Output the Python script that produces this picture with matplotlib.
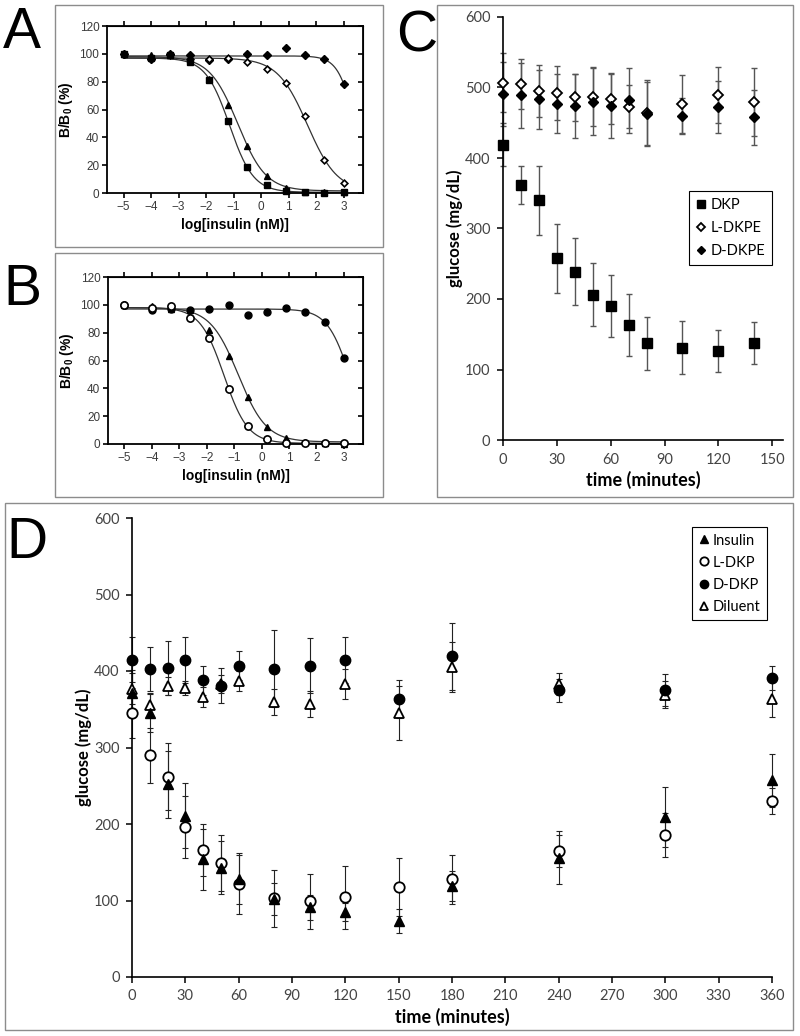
import numpy as np
import matplotlib
matplotlib.use("Agg")
import matplotlib.pyplot as plt
from matplotlib.patches import Rectangle
from matplotlib.lines import Line2D

W, H = 800, 1036
ARIAL = "Liberation Sans"
EXCEL = "Lato"

plt.rcParams["mathtext.fontset"] = "custom"
plt.rcParams["mathtext.bf"] = "Liberation Sans:bold"
plt.rcParams["mathtext.rm"] = "Liberation Sans"

# ---------------- panels A / B : competition binding ----------------
log_conc = [-5, -4, -3.3, -2.6, -1.9, -1.2, -0.5, 0.2, 0.9, 1.6, 2.3, 3.0]

a_square = [100, 97, 99, 94, 81, 52, 18.5, 5.5, 1.5, 0.5, 0.3, 0.5]
a_triangle = [100, 99, 99, 96, 82, 63, 34, 12, 3.5, 1, 0.5, 0.5]
a_open_diamond = [100, 96, 99, 96, 96, 97, 94, 89, 79, 55.5, 24, 7]
a_filled_diamond = [100, 96, 100, 99, 95.5, 96.5, 100, 99, 104, 99, 96, 78.5]

b_open_circle = [100, 98, 99, 90.5, 76, 39.5, 13, 3.5, 1, 0.5, 0.5, 0.5]
b_triangle = [100, 99, 97, 96, 82, 63, 34, 12, 4, 1.5, 0.5, 0]
b_filled_circle = [100, 96.5, 97, 96, 97, 100, 93, 95, 97.5, 95, 87.5, 61.5]

# fitted sigmoid parameters (top, bottom, logIC50, hill)
a_square_fit = (97, 0.5, -1.15, 1.0)
a_triangle_fit = (98, 1.5, -0.85, 0.85)
a_open_diamond_fit = (97, 1.0, 1.68, 0.8)
a_filled_diamond_fit = (98.5, 0, 3.42, 1.4)
b_open_circle_fit = (98, 0.5, -1.37, 1.0)
b_triangle_fit = (98, 1.5, -0.85, 0.85)
b_filled_circle_fit = (97, 0, 3.23, 1.04)

# ---------------- panel C ----------------
c_time = [0, 10, 20, 30, 40, 50, 60, 70, 80, 100, 120, 140]
dkp = [419, 362, 340, 258, 239, 206, 190, 163, 137, 131, 126, 138]
dkp_err = [30, 27, 49, 49, 47, 45, 44, 44, 38, 38, 30, 30]
l_dkpe = [507, 505, 495, 492, 486, 487, 484, 473, 464, 476, 489, 479]
l_dkpe_err = [42, 35, 37, 38, 33, 42, 36, 31, 47, 42, 40, 48]
d_dkpe = [491, 489, 483, 477, 474, 480, 474, 482, 463, 460, 472, 458]
d_dkpe_err = [45, 46, 42, 42, 45, 48, 45, 46, 45, 25, 37, 39]

# ---------------- panel D ----------------
d_time = [0, 10, 20, 30, 40, 50, 60, 80, 100, 120, 150, 180, 240, 300, 360]
insulin = [371, 345, 252, 211, 154, 143, 128, 102, 91, 85, 73, 119, 156, 209, 257]
insulin_err = [30, 25, 44, 43, 40, 35, 32, 21, 16, 12, 16, 20, 35, 39, 35]
l_dkp = [345, 290, 262, 196, 166, 149, 122, 103, 99, 104, 118, 128, 165, 186, 230]
l_dkp_err = [33, 36, 44, 40, 34, 37, 40, 37, 36, 41, 38, 32, 21, 29, 17]
d_dkp = [415, 403, 404, 414, 388, 381, 407, 403, 407, 414, 363, 419, 375, 375, 391]
d_dkp_err = [30, 29, 35, 30, 19, 23, 19, 50, 36, 30, 25, 44, 15, 21, 16]
diluent = [377, 356, 380, 378, 366, 383, 387, 359, 357, 383, 345, 405, 383, 369, 363]
diluent_err = [20, 15, 12, 9, 13, 12, 13, 17, 17, 20, 35, 33, 14, 18, 23]


def sigmoid(x, p):
    top, bottom, logic50, hill = p
    return bottom + (top - bottom) / (1 + 10 ** ((x - logic50) * hill))


def px_axes(fig, left, top, right, bottom):
    return fig.add_axes([left / W, 1 - bottom / H, (right - left) / W, (bottom - top) / H])


def frame(fig, left, top, right, bottom):
    fig.add_artist(Rectangle((left / W, 1 - bottom / H), (right - left) / W, (bottom - top) / H,
                             transform=fig.transFigure, fill=False, ec="#8c8c8c", lw=1.0))


fig = plt.figure(figsize=(W / 100, H / 100), dpi=100)

frame(fig, 55, 5, 383, 247)
frame(fig, 55, 253, 383, 497)
frame(fig, 437, 5, 793, 497)
frame(fig, 5, 503, 793, 1030)

for letter, x, y in [("A", 3, 48), ("B", 3, 305), ("C", 396, 52), ("D", 6, 558)]:
    fig.text(x / W, 1 - y / H, letter, fontsize=41, family=ARIAL, va="baseline", ha="left")


def style_binding(ax):
    ax.set_xlim(-5.6, 3.7)
    ax.set_ylim(0, 120)
    ax.set_xticks(range(-5, 4))
    ax.set_yticks(range(0, 121, 20))
    for s in ax.spines.values():
        s.set_linewidth(1.3)
    ax.tick_params(direction="out", length=3.5, width=1.2, labelsize=8.5,
                   labelcolor="#3a3a3a", pad=2)
    for lab in ax.get_xticklabels() + ax.get_yticklabels():
        lab.set_family(ARIAL)
    top = ax.secondary_xaxis("top")
    top.set_xticks(range(-5, 4))
    top.tick_params(direction="out", length=3.5, width=1.2, labeltop=False)
    right = ax.secondary_yaxis("right")
    right.set_yticks(range(0, 121, 20))
    right.tick_params(direction="in", length=3.5, width=1.2, labelright=False)
    ax.set_xlabel("log[insulin (nM)]", family=ARIAL, fontweight="bold", fontsize=10, labelpad=4)
    ax.set_ylabel(r"B/B$_\mathbf{0}$ (%)", family=ARIAL, fontweight="bold", fontsize=10, labelpad=3)


xs = np.linspace(-5, 3, 300)
line_kw = dict(color="#333333", lw=0.9, zorder=2)

# panel A
axA = px_axes(fig, 107, 26, 363, 193)
for p in (a_square_fit, a_triangle_fit, a_open_diamond_fit, a_filled_diamond_fit):
    axA.plot(xs, sigmoid(xs, p), **line_kw)
axA.plot(log_conc, a_filled_diamond, "D", ms=3.6, color="black", zorder=3, clip_on=False)
axA.plot(log_conc, a_open_diamond, "D", ms=3.4, mfc="white", mec="black", mew=1.2, zorder=3, clip_on=False)
axA.plot(log_conc, a_triangle, "^", ms=5, color="black", zorder=3, clip_on=False)
axA.plot(log_conc, a_square, "s", ms=4.4, color="black", zorder=4, clip_on=False)
style_binding(axA)

# panel B
axB = px_axes(fig, 108, 277, 363, 444)
for p in (b_open_circle_fit, b_triangle_fit, b_filled_circle_fit):
    axB.plot(xs, sigmoid(xs, p), **line_kw)
axB.plot(log_conc, b_filled_circle, "o", ms=5, color="black", zorder=3, clip_on=False)
axB.plot(log_conc, b_triangle, "^", ms=5, color="black", zorder=3, clip_on=False)
axB.plot(log_conc, b_open_circle, "o", ms=5.2, mfc="white", mec="black", mew=1.2, zorder=4, clip_on=False)
style_binding(axB)


def style_excel(ax, xmax, xticks):
    ax.set_xlim(0, xmax)
    ax.set_ylim(0, 600)
    ax.set_xticks(xticks)
    ax.set_yticks(range(0, 601, 100))
    ax.spines["top"].set_visible(False)
    ax.spines["right"].set_visible(False)
    for s in ("left", "bottom"):
        ax.spines[s].set_linewidth(1.2)
    ax.tick_params(direction="out", length=4, width=1.1, labelsize=10.5,
                   labelcolor="#444444", pad=5)
    for lab in ax.get_xticklabels() + ax.get_yticklabels():
        lab.set_family(EXCEL)


def errbars(ax, x, y, e, color, lw, z):
    c = ax.errorbar(x, y, yerr=e, fmt="none", ecolor=color, elinewidth=lw,
                    capsize=2.5, capthick=lw, zorder=z)
    for art in c.lines[1] + c.lines[2]:
        art.set_clip_on(False)


# panel C
axC = px_axes(fig, 503, 17, 783, 440)
style_excel(axC, 156, range(0, 151, 30))
errbars(axC, c_time, dkp, dkp_err, "#555555", 1.0, 2)
errbars(axC, c_time, l_dkpe, l_dkpe_err, "#555555", 1.0, 2)
errbars(axC, c_time, d_dkpe, d_dkpe_err, "#555555", 1.0, 2)
axC.plot(c_time, dkp, "s", ms=7.7, color="black", zorder=3, clip_on=False, label="DKP")
axC.plot(c_time, l_dkpe, "D", ms=5.2, mfc="white", mec="black", mew=1.3, zorder=3,
         clip_on=False, label="L-DKPE")
axC.plot(c_time, d_dkpe, "D", ms=5.4, color="black", zorder=4, clip_on=False, label="D-DKPE")
axC.set_xlabel("time (minutes)", family=EXCEL, fontweight="bold", fontsize=13, labelpad=3)
axC.set_ylabel("glucose (mg/dL)", family=EXCEL, fontweight="bold", fontsize=12, labelpad=1)
legC = axC.legend(loc="upper left", bbox_to_anchor=(689 / W, 1 - 191 / H),
                  bbox_transform=fig.transFigure, borderaxespad=0, frameon=True,
                  fancybox=False, edgecolor="black", framealpha=1, markerscale=0.75,
                  handlelength=0.7, handletextpad=0.25, labelspacing=0.6,
                  borderpad=0.5, prop={"family": EXCEL, "size": 10.5})
legC.get_frame().set_linewidth(0.8)

# panel D
axD = px_axes(fig, 132, 518, 772, 977)
style_excel(axD, 360, range(0, 361, 30))
for y, e in ((diluent, diluent_err), (d_dkp, d_dkp_err), (l_dkp, l_dkp_err), (insulin, insulin_err)):
    errbars(axD, d_time, y, e, "#222222", 0.8, 2)
mk = dict(clip_on=False, linestyle="none")
axD.plot(d_time, diluent, "^", ms=7.3, mfc="white", mec="black", mew=1.3, zorder=3, **mk)
axD.plot(d_time, d_dkp, "o", ms=7.5, color="black", zorder=4, **mk)
axD.plot(d_time, l_dkp, "o", ms=7.5, mfc="white", mec="black", mew=1.3, zorder=4, **mk)
axD.plot(d_time, insulin, "^", ms=7.3, color="black", zorder=5, **mk)
axD.set_xlabel("time (minutes)", family=EXCEL, fontweight="bold", fontsize=13, labelpad=3)
axD.set_ylabel("glucose (mg/dL)", family=EXCEL, fontweight="bold", fontsize=12, labelpad=1)
handles = [
    Line2D([], [], marker="^", ls="none", ms=7.3, color="black"),
    Line2D([], [], marker="o", ls="none", ms=7.5, mfc="white", mec="black", mew=1.3),
    Line2D([], [], marker="o", ls="none", ms=7.5, color="black"),
    Line2D([], [], marker="^", ls="none", ms=7.3, mfc="white", mec="black", mew=1.3),
]
legD = axD.legend(handles, ["Insulin", "L-DKP", "D-DKP", "Diluent"], loc="upper left",
                  bbox_to_anchor=(692 / W, 1 - 527 / H), bbox_transform=fig.transFigure,
                  borderaxespad=0, frameon=True, fancybox=False, edgecolor="black",
                  framealpha=1, markerscale=0.8, handlelength=0.7, handletextpad=0.25,
                  labelspacing=0.55, borderpad=0.45, prop={"family": EXCEL, "size": 10.5})
legD.get_frame().set_linewidth(0.8)

fig.savefig("out.png", dpi=100)
